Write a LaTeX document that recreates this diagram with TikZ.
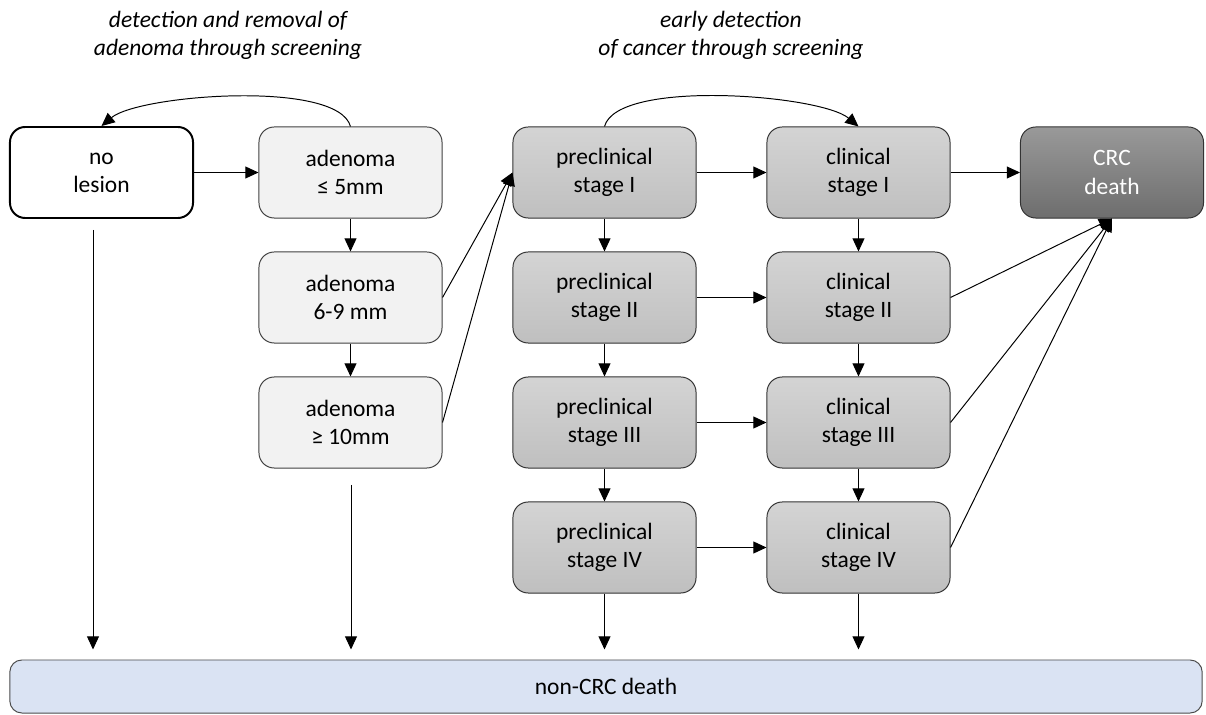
\documentclass[tikz,border=0pt]{standalone}
\usepackage{fontspec}
\setmainfont{Carlito}
\usetikzlibrary{arrows.meta}
\definecolor{bleuclair}{HTML}{DAE3F3}
\tikzset{
    etat/.style={rectangle,rounded corners=0.38cm,minimum width=4.575cm,
        minimum height=2.275cm,inner sep=0pt,align=center,
        font=\fontsize{16.7}{20}\selectfont},
    sain/.style={etat,draw=black,line width=1.4pt,fill=white},
    adenome/.style={etat,draw=black!75,line width=0.7pt,fill=black!5},
    cancer/.style={etat,draw=black!80,line width=0.7pt,top color=black!17,bottom color=black!25},
    deces/.style={etat,draw=black!80,line width=0.7pt,top color=black!40,bottom color=black!57,text=white},
    titre/.style={align=center,font=\fontsize{16.7}{20}\selectfont\itshape},
    fleche/.style={-{Triangle[length=3.3mm,width=3mm]},line width=0.7pt}
}

\begin{document}
\begin{tikzpicture}[x=0.025cm,y=-0.025cm]
    \useasboundingbox (0,0) rectangle (1206,715);

    % Titres
    \node[titre] (titreA) at (228,35) {detection and removal of\\adenoma through screening};
    \node[titre] (titreB) at (731,35) {early detection\\of cancer through screening};

    % Dessine les états
    \node[sain] (sain) at (101.5,172.5) {no\\lesion};
    \node[adenome] (ad1) at (350.5,172.5) {adenoma\\≤ 5mm};
    \node[adenome] (ad2) at (350.5,297.5) {adenoma\\6-9 mm};
    \node[adenome] (ad3) at (350.5,422.5) {adenoma\\≥ 10mm};
    \foreach \i/\s in {1/I,2/II,3/III,4/IV} {
        \node[cancer] (pre\i) at (604.5,47.5+125*\i) {preclinical\\stage \s};
        \node[cancer] (cli\i) at (858.5,47.5+125*\i) {clinical\\stage \s};
    }
    \node[deces] (crc) at (1112,172.5) {CRC\\death};
    \node[rectangle,rounded corners=0.3cm,draw=black!70,line width=0.7pt,fill=bleuclair,
        minimum width=29.8cm,minimum height=1.325cm,font=\fontsize{16.7}{20}\selectfont]
        (autre) at (606,686.5) {non-CRC death};

    % Dessine les flèches
    \draw[fleche] (sain) -- (ad1);
    \draw[fleche] (ad1) -- (ad2);
    \draw[fleche] (ad2) -- (ad3);
    \draw[fleche] (ad1.north) to[out=105,in=40,looseness=0.5] (sain.north);
    \draw[fleche] (ad2.east) -- (pre1.west);
    \draw[fleche] (ad3.east) -- (pre1.west);
    \draw[fleche] (pre1.north) to[out=75,in=140,looseness=0.5] (cli1.north);
    \foreach \i in {1,2,3,4} {
        \draw[fleche] (pre\i) -- (cli\i);
    }
    \foreach \i/\j in {1/2,2/3,3/4} {
        \draw[fleche] (pre\i) -- (pre\j);
        \draw[fleche] (cli\i) -- (cli\j);
    }
    \draw[fleche] (cli1) -- (crc);
    \foreach \i in {2,3,4} {
        \draw[fleche] (cli\i.east) -- (crc.south);
    }

    % Vers les autres causes de décès
    \coordinate (dep1) at (93,230);
    \coordinate (dep2) at (351,485);
    \draw[fleche,shorten >=0.25cm] (dep1) -- (dep1 |- autre.north);
    \draw[fleche,shorten >=0.25cm] (dep2) -- (dep2 |- autre.north);
    \draw[fleche,shorten >=0.25cm] (pre4) -- (pre4 |- autre.north);
    \draw[fleche,shorten >=0.25cm] (cli4) -- (cli4 |- autre.north);
\end{tikzpicture}
\end{document}
